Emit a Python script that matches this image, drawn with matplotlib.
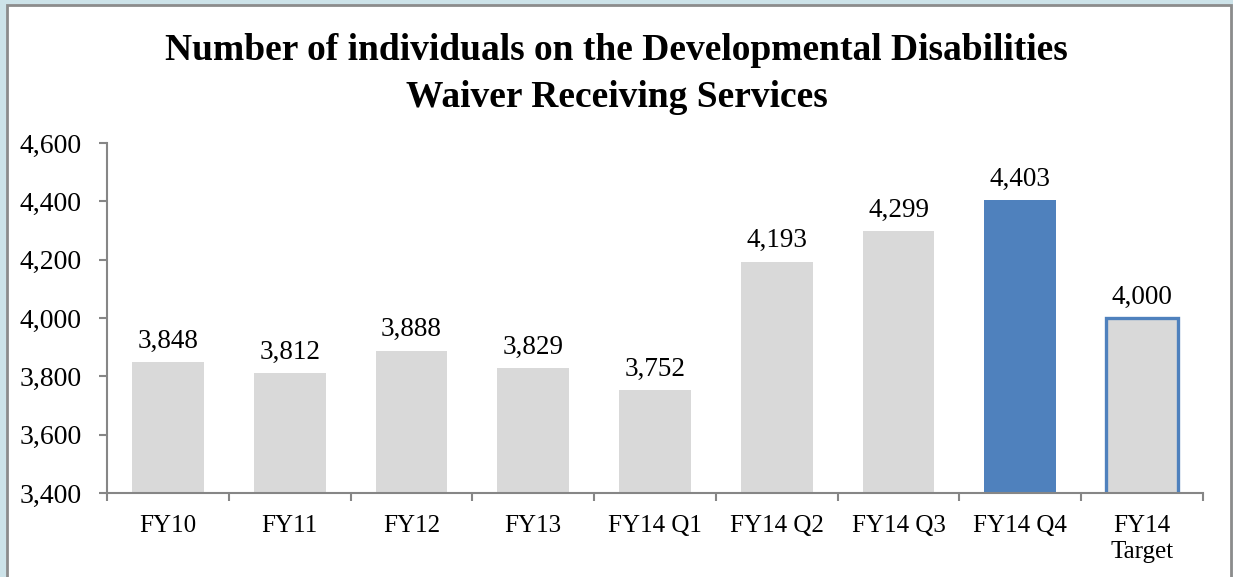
import matplotlib.pyplot as plt
import matplotlib.patches as mpatches
import numpy as np

plt.rcParams['font.family'] = ['Liberation Serif', 'DejaVu Serif']

categories = ['FY10', 'FY11', 'FY12', 'FY13', 'FY14 Q1', 'FY14 Q2',
              'FY14 Q3', 'FY14 Q4', 'FY14\nTarget']
values = [3848, 3812, 3888, 3829, 3752, 4193, 4299, 4403, 4000]
y_ticks = [3400, 3600, 3800, 4000, 4200, 4400, 4600]

gray = '#d9d9d9'
blue = '#4f81bd'
axis_col = '#868686'

fig = plt.figure(figsize=(12.33, 5.77), dpi=100)
fig.patch.set_facecolor('#cde3e9')

# white panel with gray border
panel = mpatches.Rectangle((7 / 1233, -0.05), (1231 - 7) / 1233, 1.05 - 5 / 577,
                           transform=fig.transFigure, facecolor='white',
                           edgecolor='#8c8c8c', linewidth=2, zorder=-10)
fig.patches.append(panel)

ax = fig.add_axes([107 / 1233, 1 - 493 / 577, (1203 - 107) / 1233, (493 - 143) / 577])
ax.set_facecolor('none')

x = np.arange(len(categories))
colors = [gray] * 7 + [blue, gray]
edges = ['none'] * 8 + [blue]
widths = [0] * 8 + [2.4]
ax.bar(x, values, width=0.59, color=colors, edgecolor=edges, linewidth=widths,
       zorder=2)

for xi, v in zip(x, values):
    ax.annotate(f'{v:,.0f}', (xi, v), textcoords='offset points', xytext=(0, 6),
                ha='center', va='bottom', fontsize=19.5)

ax.set_ylim(3400, 4600)
ax.set_xlim(-0.5, len(categories) - 0.5)
ax.set_yticks(y_ticks)
ax.set_yticklabels([f'{t:,}' for t in y_ticks], fontsize=20)

ax.set_xticks(x)
ax.set_xticklabels(categories, fontsize=18, linespacing=1.2, va='top')
ax.tick_params(axis='x', length=0, pad=16)
ax.set_xticks(np.arange(-0.5, len(categories)), minor=True)
ax.tick_params(axis='x', which='minor', length=6, color=axis_col, width=1.5)
ax.tick_params(axis='y', length=6, color=axis_col, width=1.5, pad=12)

for s in ['top', 'right']:
    ax.spines[s].set_visible(False)
for s in ['left', 'bottom']:
    ax.spines[s].set_color(axis_col)
    ax.spines[s].set_linewidth(1.5)
    ax.spines[s].set_zorder(3)

fig.text(0.5, 1 - 74 / 577,
         'Number of individuals on the Developmental Disabilities\nWaiver Receiving Services',
         ha='center', va='center', fontsize=27, fontweight='bold', linespacing=1.45)

fig.savefig('out.png', dpi=100, facecolor=fig.get_facecolor())
